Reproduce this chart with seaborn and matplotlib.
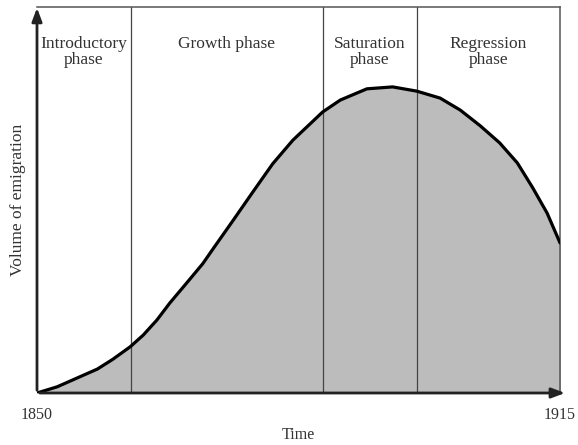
import numpy as np
import pandas as pd
import seaborn as sns
import matplotlib
matplotlib.use("Agg")
import matplotlib.pyplot as plt

# curve (year, relative volume 0-100)
years = [1850, 1852.5, 1855.0, 1857.5, 1859.4, 1861.6, 1863.2, 1864.9, 1866.5,
         1868.6, 1870.6, 1871.9, 1874.4, 1876.8, 1879.3, 1881.8, 1885.5, 1887.7,
         1891.0, 1894.2, 1897.2, 1900.1, 1902.6, 1905.1, 1907.5, 1909.7, 1911.6,
         1913.4, 1915]
volume = [0, 1.6, 3.9, 6.2, 8.7, 12.0, 15.0, 18.9, 23.3,
          28.5, 33.5, 37.4, 44.8, 52.0, 59.4, 65.5, 72.8, 75.9,
          78.8, 79.3, 78.2, 76.4, 73.3, 69.2, 64.8, 59.6, 53.2,
          46.6, 38.9]

# phase boundaries and labels
phase_bounds = [1850, 1861.7, 1885.5, 1897.2, 1915]
phase_labels = ["Introductory\nphase", "Growth phase", "Saturation\nphase", "Regression\nphase"]
tick_years = [1850, 1915]

df = pd.DataFrame({"year": years, "volume": volume})

sns.set_style("white")
plt.rcParams["font.family"] = ["Liberation Serif", "DejaVu Serif"]

fig = plt.figure(figsize=(5.78, 4.45), dpi=100)
ax = fig.add_axes([37 / 578, 1 - 393 / 445, 523 / 578, 386 / 445])

ax.fill_between(df["year"], df["volume"], 0, color="#bcbcbc", zorder=1)
sns.lineplot(data=df, x="year", y="volume", color="black", linewidth=2.3, ax=ax, zorder=3)

# phase dividers
for b in phase_bounds[1:-1]:
    ax.axvline(b, color="#444444", linewidth=0.9, zorder=2)

for i, lab in enumerate(phase_labels):
    mid = (phase_bounds[i] + phase_bounds[i + 1]) / 2
    ax.text(mid, 92.6, lab, ha="center", va="top", fontsize=12.5,
            color="#333333", linespacing=1.05)

ax.set_xlim(1850, 1915)
ax.set_ylim(0, 100)
ax.set_xticks(tick_years)
ax.set_xticklabels([str(t) for t in tick_years], fontsize=11.5, color="#333333")
ax.set_yticks([])
ax.tick_params(axis="x", length=0, pad=10)
ax.set_xlabel("Time", fontsize=11.5, color="#333333", labelpad=3)
ax.set_ylabel("Volume of emigration", fontsize=12.5, color="#333333", labelpad=8)

for s in ["left", "bottom"]:
    ax.spines[s].set_visible(False)
ax.spines["top"].set_color("#555555")
ax.spines["top"].set_linewidth(1.1)
ax.spines["right"].set_color("#555555")
ax.spines["right"].set_linewidth(1.1)

# axis arrows
ax.annotate("", xy=(0, 1.005), xytext=(0, 0), xycoords="axes fraction",
            arrowprops=dict(arrowstyle="-|>,head_length=0.8,head_width=0.3",
                            color="#222222", lw=2), annotation_clip=False, zorder=5)
ax.annotate("", xy=(1.015, 0), xytext=(0, 0), xycoords="axes fraction",
            arrowprops=dict(arrowstyle="-|>,head_length=0.8,head_width=0.3",
                            color="#222222", lw=2), annotation_clip=False, zorder=5)

fig.savefig("out.png", dpi=100)
